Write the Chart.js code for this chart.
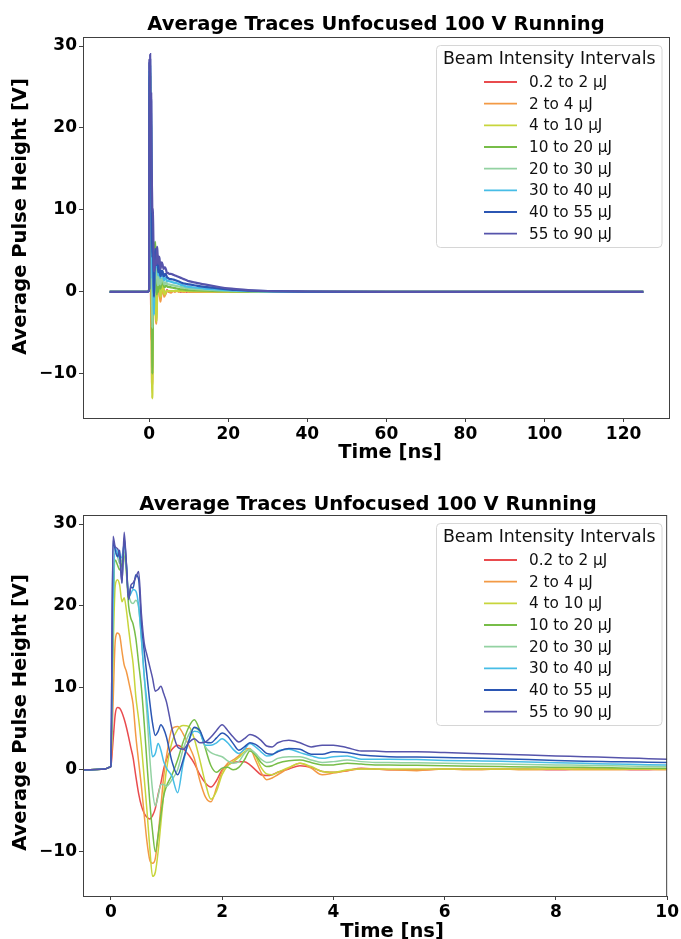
<!DOCTYPE html>
<html>
<head>
<meta charset="utf-8">
<script src="https://cdn.jsdelivr.net/npm/chart.js@4.4.0/dist/chart.umd.min.js"></script>
<style>
  html, body { margin: 0; padding: 0; background: #fff; }
  #wrap { position: relative; width: 681px; height: 939px; overflow: hidden; }
  canvas { position: absolute; left: 0; }
</style>
</head>
<body>
<div id="wrap">
  <canvas id="chart_top" width="681" height="470" style="top:0"></canvas>
  <canvas id="chart_bottom" width="681" height="469" style="top:470px"></canvas>
</div>
<script>
// time axis [ns], shared by every trace
const timeNs = [
  -10, -0.5, -0.1, -0.02, 0,
  0.04, 0.08, 0.12, 0.16, 0.2, 0.24, 0.28, 0.32, 0.36, 0.4,
  0.45, 0.5, 0.55, 0.6, 0.65, 0.7, 0.75, 0.8, 0.85, 0.9, 0.95, 1.0,
  1.1, 1.2, 1.3, 1.4, 1.5, 1.6, 1.7, 1.8, 1.9, 2.0, 2.1, 2.2, 2.3, 2.4, 2.5, 2.6, 2.7, 2.8, 2.9, 3.0,
  3.2, 3.4, 3.6, 3.8, 4.0,
  4.25, 4.5, 4.75, 5.0,
  5.5, 6.0, 6.5, 7.0, 7.5, 8.0, 8.5, 9.0, 9.5, 10.0,
  12, 14, 16, 18, 20, 22, 25, 30, 40, 60, 80, 100, 125
];

const labels = ['0.2 to 2 \u00b5J', '2 to 4 \u00b5J', '4 to 10 \u00b5J', '10 to 20 \u00b5J',
                '20 to 30 \u00b5J', '30 to 40 \u00b5J', '40 to 55 \u00b5J', '55 to 90 \u00b5J'];
const colors = ['#e94b4e', '#f39a45', '#c8d53c', '#77bd48', '#93d2a2', '#47bde6', '#2b56b3', '#5654ab'];

// average pulse height [V] per intensity bin
const trace_0p2_2 = [
  0, 0, 0.1, 0.3, 0.4,
  3.5, 6.8, 7.6, 7.5, 7.0, 6.2, 5.2, 4.0, 2.7, 1.5,
  -0.8, -2.9, -4.4, -5.3, -5.8, -6.0, -5.6, -4.7, -3.0, -1.6, 0.1, 1.3,
  2.5, 3.0, 2.6, 1.8, 0.8, -0.6, -1.6, -2.1, -1.3, 0.0, 0.6, 0.9, 1.0, 1.0, 0.6, 0.0, -0.6, -0.7, -0.6, -0.3,
  0.1, 0.5, 0.3, -0.2, -0.3,
  -0.1, 0.2, 0.1, 0.0,
  0.0, 0.1, 0.1, 0.1, 0.1, 0.0, 0.1, 0.1, 0.0, 0.1,
  0.05, 0.05, 0.03, 0.03, 0.02, 0.02, 0, 0, 0, 0, 0, 0, 0
];
const trace_2_4 = [
  0, 0, 0.1, 0.3, 0.4,
  8.0, 15.8, 16.7, 16.4, 14.5, 12.8, 12.0, 10.8, 9.5, 8.0,
  4.1, 1.0, -2.0, -5.5, -8.8, -11.0, -11.4, -10.8, -8.0, -4.5, -0.8, 1.6,
  5.0, 5.3, 4.4, 3.0, 1.4, -1.3, -3.3, -3.9, -2.2, -0.2, 0.8, 1.2, 1.7, 2.5, 2.6, 1.2, -0.3, -1.2, -1.0, -0.6,
  0.2, 0.8, 0.2, -0.6, -0.4,
  -0.1, 0.1, 0.1, 0.0,
  -0.1, 0.1, 0.0, 0.1, 0.0, 0.1, 0.0, 0.0, 0.1, 0.0,
  0, 0, 0, 0, 0, 0, 0, 0, 0, 0, 0, 0, 0
];
const trace_4_10 = [
  0, 0, 0.1, 0.3, 0.4,
  14.0, 22.5, 23.2, 22.5, 20.5, 21.0, 19.5, 17.2, 15.0, 13.0,
  8.9, 6.2, 3.0, -1.0, -5.0, -9.5, -13.0, -12.5, -10.0, -6.5, -3.0, 0.0,
  3.4, 4.9, 5.4, 5.3, 3.8, 1.2, -1.6, -3.6, -2.6, -0.6, 0.5, 1.0, 1.5, 2.2, 2.5, 1.7, 0.3, -0.5, -0.6, -0.3,
  0.3, 0.8, 0.4, -0.2, -0.3,
  0.0, 0.1, 0.1, 0.1,
  0.1, 0.1, 0.1, 0.1, 0.1, 0.1, 0.1, 0.1, 0.1, 0.1,
  0.08, 0.06, 0.05, 0.04, 0.03, 0.02, 0.01, 0, 0, 0, 0, 0, 0
];
const trace_10_20 = [
  0, 0, 0.1, 0.3, 0.4,
  18.0, 25.6, 25.0, 24.4, 25.2, 26.2, 24.0, 20.0, 18.5, 17.8,
  16.0, 13.0, 10.0, 5.7, 0.8, -3.9, -7.5, -10.0, -8.0, -5.5, -3.2, -2.0,
  -0.6, 1.2, 3.4, 5.2, 6.1, 4.8, 2.6, 0.5, -0.3, 0.2, 0.3, 0.0, 0.3, 1.2, 2.3, 1.8, 0.9, 0.4, 0.5, 0.8,
  1.1, 1.2, 0.9, 0.6, 0.6,
  0.8, 0.7, 0.6, 0.6,
  0.55, 0.5, 0.45, 0.4, 0.35, 0.3, 0.3, 0.25, 0.2, 0.2,
  0.17, 0.14, 0.11, 0.09, 0.07, 0.05, 0.03, 0.02, 0, 0, 0, 0, 0
];
const trace_20_30 = [
  0, 0, 0.1, 0.3, 0.4,
  19.0, 26.5, 26.0, 25.2, 25.6, 26.6, 24.5, 21.5, 20.5, 20.3,
  20.7, 19.8, 16.0, 11.4, 6.8, 1.5, -2.5, -4.4, -3.2, -1.8, -1.8, -2.0,
  -1.2, 0.0, 2.5, 4.3, 5.1, 4.6, 2.8, 2.1, 1.8, 1.6, 1.1, 0.8, 1.0, 2.0, 2.5, 2.0, 1.3, 0.9, 1.0, 1.4,
  1.6, 1.6, 1.2, 0.9, 1.0,
  1.2, 1.0, 0.9, 0.9,
  0.85, 0.8, 0.75, 0.7, 0.65, 0.6, 0.55, 0.5, 0.45, 0.4,
  0.33, 0.27, 0.22, 0.17, 0.13, 0.1, 0.07, 0.03, 0, 0, 0, 0, 0
];
const trace_30_40 = [
  0, 0, 0.1, 0.3, 0.4,
  20.0, 27.0, 26.5, 25.8, 26.0, 27.5, 25.0, 21.0, 21.5, 22.0,
  21.8, 20.0, 16.0, 11.5, 8.2, 4.5, 1.6, 2.0, 3.2, 2.4, 1.0, 0.2,
  -0.8, -2.8, 0.8, 3.5, 4.7, 4.5, 3.0, 3.0, 3.3, 3.8, 3.3, 2.5, 2.0, 2.5, 3.2, 2.8, 2.2, 1.7, 1.8, 2.3,
  2.5, 2.1, 1.7, 1.4, 1.6,
  1.7, 1.3, 1.3, 1.3,
  1.25, 1.15, 1.1, 1.05, 0.95, 0.85, 0.8, 0.7, 0.65, 0.6,
  0.5, 0.4, 0.32, 0.25, 0.2, 0.15, 0.1, 0.05, 0, 0, 0, 0, 0
];
const trace_40_55 = [
  0, 0, 0.1, 0.3, 0.4,
  28.0, 26.8, 26.0, 26.8, 22.8, 28.3, 25.2, 20.8, 22.3, 22.2,
  23.8, 23.2, 18.0, 14.5, 11.5, 8.3, 5.7, 4.2, 4.7, 5.5, 5.0, 4.0,
  1.0, -0.6, 1.2, 3.5, 5.2, 4.8, 3.4, 3.3, 3.9, 4.5, 4.1, 3.2, 2.4, 2.8, 3.3, 3.1, 2.6, 2.0, 1.9, 2.2,
  2.6, 2.5, 1.9, 1.9, 2.2,
  2.1, 1.8, 1.7, 1.6,
  1.55, 1.5, 1.45, 1.35, 1.25, 1.15, 1.05, 1.0, 0.95, 0.9,
  0.75, 0.6, 0.5, 0.4, 0.3, 0.22, 0.15, 0.08, 0.03, 0, 0, 0, 0
];
const trace_55_90 = [
  0, 0, 0.1, 0.3, 0.4,
  28.5, 27.2, 27.0, 26.0, 22.8, 29.0, 25.0, 20.8, 22.5, 22.8,
  23.5, 24.2, 19.0, 15.5, 14.0, 12.6, 11.2, 9.6, 9.8, 10.2, 9.3, 8.3,
  5.0, 2.8, 2.5, 3.3, 3.8, 3.3, 3.4, 4.0, 4.8, 5.5, 4.8, 4.0, 3.4, 3.8, 4.3, 4.1, 3.6, 2.9, 2.8, 3.3,
  3.6, 3.3, 2.8, 3.0, 3.0,
  2.7, 2.3, 2.3, 2.2,
  2.2, 2.1, 2.0, 1.9, 1.8, 1.7, 1.6, 1.5, 1.4, 1.3,
  1.1, 0.9, 0.72, 0.56, 0.42, 0.32, 0.2, 0.1, 0.04, 0, 0, 0, 0
];
const traces = [trace_0p2_2, trace_2_4, trace_4_10, trace_10_20, trace_20_30, trace_30_40, trace_40_55, trace_55_90];

const yTicks = [-10, 0, 10, 20, 30];
const xTicksTop = [0, 20, 40, 60, 80, 100, 120];
const xTicksBottom = [0, 2, 4, 6, 8, 10];

const titleText = 'Average Traces Unfocused 100 V Running';
const legendTitle = 'Beam Intensity Intervals';
const FONT = "'DejaVu Sans', 'Liberation Sans', sans-serif";

const fmt = v => (v < 0 ? '\u2212' + Math.abs(v) : String(v));

// spines, titles and the matplotlib-style legend box
const decorPlugin = {
  id: 'decor',
  afterDraw(chart, args, o) {
    const { ctx, chartArea: a } = chart;
    ctx.save();
    ctx.strokeStyle = '#404040';
    ctx.lineWidth = 1;
    ctx.strokeRect(a.left + 0.5, a.top + 0.5, a.right - a.left - 1, a.bottom - a.top);

    ctx.fillStyle = '#000';
    ctx.textAlign = 'center';
    ctx.textBaseline = 'middle';
    ctx.font = `bold 19.5px ${FONT}`;
    ctx.fillText(titleText, o.titleX, o.titleY);
    ctx.fillText('Time [ns]', o.xLabelX, o.xLabelY);
    ctx.save();
    ctx.translate(21, o.yLabelY);
    ctx.rotate(-Math.PI / 2);
    ctx.fillText('Average Pulse Height [V]', 0, 0);
    ctx.restore();

    // legend
    const lx = 436.5, lw = 225.5, ly = a.top + 8.5, lh = 202, r = 4;
    ctx.beginPath();
    ctx.moveTo(lx + r, ly);
    ctx.arcTo(lx + lw, ly, lx + lw, ly + lh, r);
    ctx.arcTo(lx + lw, ly + lh, lx, ly + lh, r);
    ctx.arcTo(lx, ly + lh, lx, ly, r);
    ctx.arcTo(lx, ly, lx + lw, ly, r);
    ctx.closePath();
    ctx.fillStyle = 'rgba(255,255,255,0.8)';
    ctx.fill();
    ctx.strokeStyle = '#d6d6d6';
    ctx.stroke();

    ctx.fillStyle = '#111';
    ctx.font = `17.4px ${FONT}`;
    ctx.fillText(legendTitle, lx + lw / 2, ly + 13.5);
    ctx.textAlign = 'left';
    ctx.font = `15.3px ${FONT}`;
    labels.forEach((lab, i) => {
      const y = ly + 36.5 + i * 21.67;
      ctx.strokeStyle = colors[i];
      ctx.lineWidth = 1.8;
      ctx.beginPath();
      ctx.moveTo(484, y);
      ctx.lineTo(517, y);
      ctx.stroke();
      ctx.fillStyle = '#111';
      ctx.fillText(lab, 529, y + 1);
    });
    ctx.restore();
  }
};

function makeChart(id, cfg) {
  const datasets = traces.map((tr, i) => ({
    label: labels[i],
    data: timeNs.map((t, k) => ({ x: t, y: tr[k] })),
    borderColor: colors[i],
    borderWidth: cfg.lineWidth,
    pointRadius: 0,
    cubicInterpolationMode: 'monotone',
    order: traces.length - 1 - i,
  }));
  const tickFont = { family: FONT, size: 17, weight: 'bold' };
  return new Chart(document.getElementById(id), {
    type: 'line',
    data: { datasets },
    options: {
      responsive: false,
      animation: false,
      events: [],
      layout: { padding: { left: 0, right: 11, top: cfg.padTop, bottom: 0 } },
      plugins: {
        legend: { display: false },
        tooltip: { enabled: false },
        decor: cfg.decor,
      },
      scales: {
        x: {
          type: 'linear',
          min: cfg.xMin,
          max: cfg.xMax,
          afterBuildTicks: s => { s.ticks = cfg.xTicks.map(v => ({ value: v })); },
          afterFit: s => { s.height = cfg.xAxisH; },
          ticks: { font: tickFont, color: '#000', padding: 2, maxRotation: 0, autoSkip: false, callback: v => fmt(v) },
          grid: { drawOnChartArea: false, drawTicks: true, tickLength: 4, color: '#404040' },
          border: { display: false },
        },
        y: {
          type: 'linear',
          min: -15.4,
          max: 31.1,
          afterBuildTicks: s => { s.ticks = yTicks.map(v => ({ value: v })); },
          afterFit: s => { s.width = 83; },
          ticks: { font: tickFont, color: '#000', padding: 2, autoSkip: false, callback: v => fmt(v) },
          grid: { drawOnChartArea: false, drawTicks: true, tickLength: 4, color: '#404040' },
          border: { display: false },
        },
      },
    },
    plugins: [decorPlugin],
  });
}

makeChart('chart_top', {
  xMin: -16.75, xMax: 131.75, xTicks: xTicksTop, lineWidth: 2.2,
  padTop: 37, xAxisH: 52,
  decor: { titleX: 376, titleY: 25, xLabelX: 390, xLabelY: 453, yLabelY: 216.5 },
});

makeChart('chart_bottom', {
  xMin: -0.5, xMax: 10, xTicks: xTicksBottom, lineWidth: 1.5,
  padTop: 45, xAxisH: 43,
  decor: { titleX: 368, titleY: 35, xLabelX: 392, xLabelY: 462, yLabelY: 242.5 },
});
</script>
</body>
</html>
